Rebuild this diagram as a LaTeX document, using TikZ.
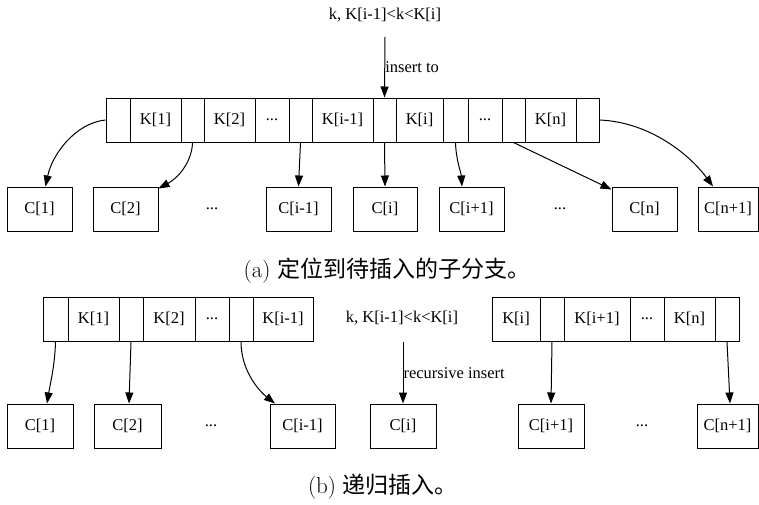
\documentclass[tikz,border=0pt]{standalone}
\usepackage{fontspec}
\newfontfamily\nodefont{Liberation Serif}
\newfontfamily\cjk{Noto Sans CJK SC}
\usetikzlibrary{arrows.meta,calc}
\tikzset{
  cellbox/.style={draw, line width=1pt, inner sep=0pt, minimum height=44pt, font=\fontsize{16.5}{19}\selectfont\nodefont},
  childbox/.style={draw, line width=1pt, inner sep=0pt, minimum height=44pt, font=\fontsize{16.5}{19}\selectfont\nodefont},
  plain/.style={inner sep=1pt, font=\fontsize{16.5}{19}\selectfont\nodefont},
  caption/.style={inner sep=0pt, font=\fontsize{23}{27}\selectfont},
  link/.style={line width=1pt, -{Triangle[length=11pt,width=8pt]}}
}
\begin{document}
\begin{tikzpicture}[x=1pt,y=-1pt]
\useasboundingbox (0,0) rectangle (759,504);
% ---------- (a) ----------
\node[plain] (ka) at (385,15) {k, K[i-1]<k<K[i]};
\coordinate (ka0) at (385,37);
% record
\node[cellbox, minimum width=24pt] (a0) at (118,120) {};
\node[cellbox, minimum width=51pt] (a1) at (155.5,120) {K[1]};
\node[cellbox, minimum width=23pt] (a2) at (192.5,120) {};
\node[cellbox, minimum width=51pt] (a3) at (229.5,120) {K[2]};
\node[cellbox, minimum width=34pt] (a4) at (272,120) {...};
\node[cellbox, minimum width=23pt] (a5) at (300.5,120) {};
\node[cellbox, minimum width=61pt] (a6) at (342.5,120) {K[i-1]};
\node[cellbox, minimum width=23pt] (a7) at (384.5,120) {};
\node[cellbox, minimum width=47pt] (a8) at (419.5,120) {K[i]};
\node[cellbox, minimum width=25pt] (a9) at (455.5,120) {};
\node[cellbox, minimum width=34pt] (a10) at (485,120) {...};
\node[cellbox, minimum width=23pt] (a11) at (513.5,120) {};
\node[cellbox, minimum width=51pt] (a12) at (550.5,120) {K[n]};
\node[cellbox, minimum width=23pt] (a13) at (587.5,120) {};
% children
\node[childbox, minimum width=65pt] (ca1) at (39.5,209) {C[1]};
\node[childbox, minimum width=65pt] (ca2) at (125.5,209) {C[2]};
\node[plain] (da1) at (212,209) {...};
\node[childbox, minimum width=65pt] (ca3) at (298.5,209) {C[i-1]};
\node[childbox, minimum width=64pt] (ca4) at (385,209) {C[i]};
\node[childbox, minimum width=65pt] (ca5) at (471.5,209) {C[i+1]};
\node[plain] (da2) at (560,209) {...};
\node[childbox, minimum width=65pt] (ca6) at (644.5,209) {C[n]};
\node[childbox, minimum width=60pt] (ca7) at (728,209) {C[n+1]};
% connectors
\draw[link] (ka0) -- node[plain, anchor=west, inner sep=0pt] (ins) {insert to} (a7.north);
\draw[link] (a0.west) .. controls (75,123) and (52,155) .. ($(ca1.north)+(6,0)$);
\draw[link] (a2.south) .. controls (192,162) and (178,178) .. ($(ca2.north east)+(0,2)$);
\draw[link] (a5.south) -- (ca3.north);
\draw[link] (a7.south) -- (ca4.north);
\draw[link] (a9.south) .. controls (456,160) and (461,172) .. ($(ca5.north)+(-9.5,0)$);
\draw[link] (a11.south) -- ($(ca6.north west)+(0,3)$);
\draw[link] (a13.east) .. controls (650,122) and (690,155) .. ($(ca7.north)+(-15,0)$);
\node[caption] (capa) at (387,271) {(a) {\cjk 定位到待插入的子分支。}};
% ---------- (b) ----------
\node[cellbox, minimum width=25pt] (b0) at (55.5,319) {};
\node[cellbox, minimum width=51pt] (b1) at (93.5,319) {K[1]};
\node[cellbox, minimum width=24pt] (b2) at (131,319) {};
\node[cellbox, minimum width=52pt] (b3) at (169,319) {K[2]};
\node[cellbox, minimum width=34pt] (b4) at (212,319) {...};
\node[cellbox, minimum width=24pt] (b5) at (241,319) {};
\node[cellbox, minimum width=60pt] (b6) at (283,319) {K[i-1]};
\node[cellbox, minimum width=48pt] (r0) at (516,319) {K[i]};
\node[cellbox, minimum width=24pt] (r1) at (552,319) {};
\node[cellbox, minimum width=66pt] (r2) at (597,319) {K[i+1]};
\node[cellbox, minimum width=34pt] (r3) at (647,319) {...};
\node[cellbox, minimum width=51pt] (r4) at (689.5,319) {K[n]};
\node[cellbox, minimum width=24pt] (r5) at (727,319) {};
\node[plain] (kb) at (402,318) {k, K[i-1]<k<K[i]};
\coordinate (kb0) at (403,342);
% children
\node[childbox, minimum width=66pt] (cb1) at (40,426) {C[1]};
\node[childbox, minimum width=67pt] (cb2) at (127.5,426) {C[2]};
\node[plain] (db1) at (211,426) {...};
\node[childbox, minimum width=65pt] (cb3) at (302.5,426) {C[i-1]};
\node[childbox, minimum width=66pt] (cb4) at (403,426) {C[i]};
\node[childbox, minimum width=66pt] (cb5) at (551,426) {C[i+1]};
\node[plain] (db2) at (642,426) {...};
\node[childbox, minimum width=61pt] (cb6) at (727.5,426) {C[n+1]};
% connectors
\draw[link] (kb0) -- node[plain, anchor=west, inner sep=0pt] (rec) {recursive insert} (cb4.north);
\draw[link] (b0.south) .. controls (55,365) and (50,385) .. ($(cb1.north)+(7,0)$);
\draw[link] (b2.south) -- ($(cb2.north)+(1.5,0)$);
\draw[link] (b5.south) .. controls (241,370) and (258,390) .. ($(cb3.north)+(-27.5,0)$);
\draw[link] (r1.south) -- (cb5.north);
\draw[link] (r5.south) -- ($(cb6.north)+(2.5,0)$);
\node[caption] (capb) at (383,487) {(b) {\cjk 递归插入。}};
\end{tikzpicture}
\end{document}
